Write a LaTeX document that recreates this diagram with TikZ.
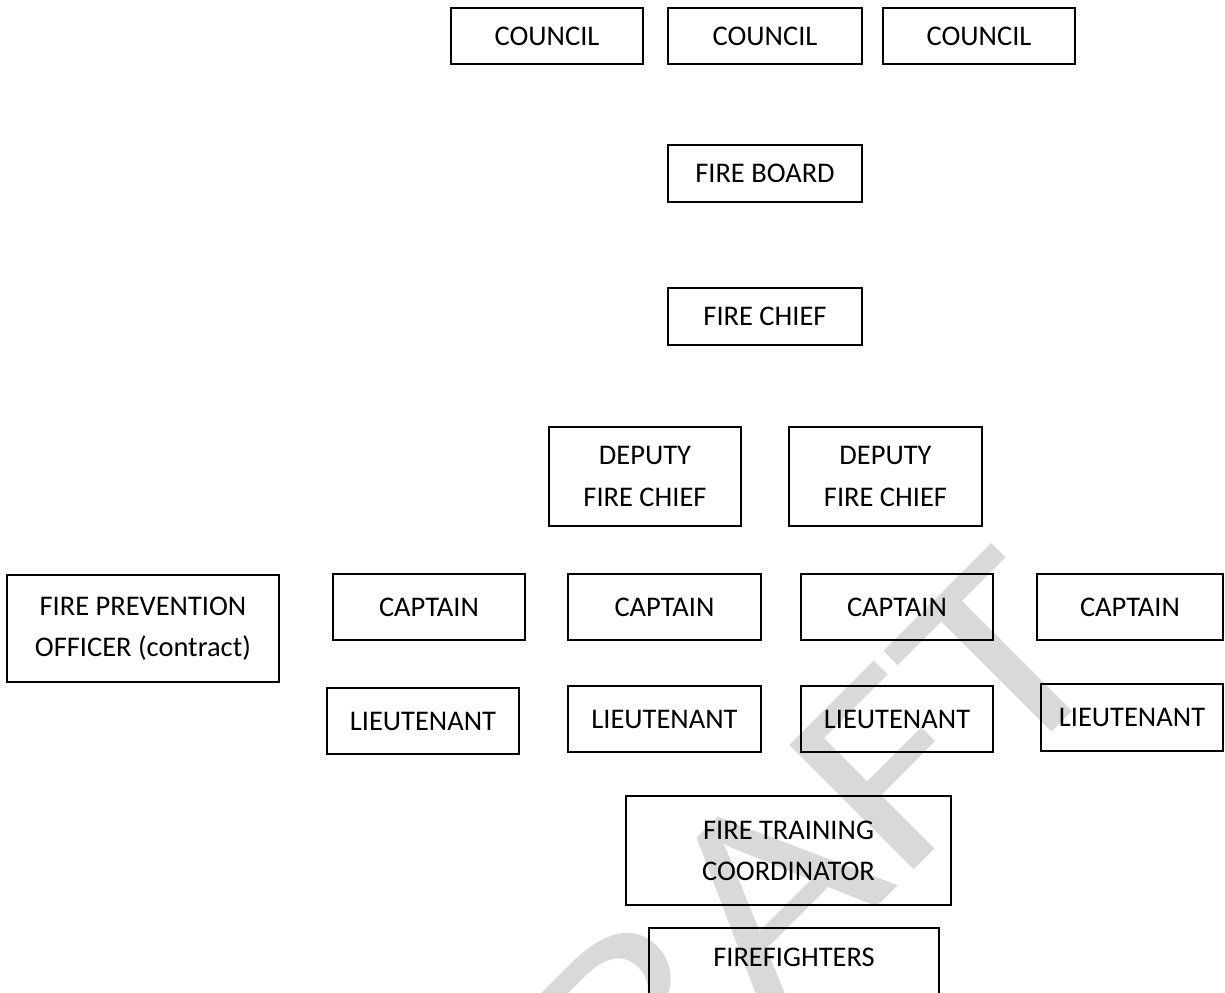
\documentclass[tikz,border=0pt]{standalone}
\usepackage{fontspec}
\setmainfont{Carlito}
\tikzset{post/.style={draw,line width=0.6pt,align=center,inner sep=0pt,font=\fontsize{8.1}{11.7}\selectfont}}
\begin{document}
\begin{tikzpicture}
\useasboundingbox(0,0)rectangle(12.25,-9.92);
\clip(0,0)rectangle(12.25,-9.92);
\node[rotate=45,xscale=1.2,anchor=base,text=black!15,inner sep=0pt,font=\fontsize{78}{78}\selectfont](draft)at(8.07,-9.77){DRAFT};
\node[post,minimum width=1.92cm,minimum height=0.56cm](council1)at(5.47,-0.36){COUNCIL};
\node[post,minimum width=1.94cm,minimum height=0.56cm](council2)at(7.65,-0.36){COUNCIL};
\node[post,minimum width=1.92cm,minimum height=0.56cm](council3)at(9.79,-0.36){COUNCIL};
\node[post,minimum width=1.94cm,minimum height=0.57cm](board)at(7.65,-1.735){FIRE BOARD};
\node[post,minimum width=1.94cm,minimum height=0.57cm](chief)at(7.65,-3.165){FIRE CHIEF};
\node[post,minimum width=1.92cm,minimum height=0.99cm](deputy1)at(6.45,-4.765){DEPUTY\\FIRE CHIEF};
\node[post,minimum width=1.93cm,minimum height=0.99cm](deputy2)at(8.855,-4.765){DEPUTY\\FIRE CHIEF};
\node[post,minimum width=2.72cm,minimum height=1.07cm](prevention)at(1.43,-6.285){FIRE PREVENTION\\OFFICER (contract)};
\node[post,minimum width=1.92cm,minimum height=0.66cm](captain1)at(4.29,-6.07){CAPTAIN};
\node[post,minimum width=1.93cm,minimum height=0.66cm](captain2)at(6.645,-6.07){CAPTAIN};
\node[post,minimum width=1.92cm,minimum height=0.66cm](captain3)at(8.97,-6.07){CAPTAIN};
\node[post,minimum width=1.86cm,minimum height=0.66cm](captain4)at(11.30,-6.07){CAPTAIN};
\node[post,minimum width=1.92cm,minimum height=0.66cm](lieut1)at(4.23,-7.21){LIEUTENANT};
\node[post,minimum width=1.93cm,minimum height=0.66cm](lieut2)at(6.645,-7.19){LIEUTENANT};
\node[post,minimum width=1.92cm,minimum height=0.66cm](lieut3)at(8.97,-7.19){LIEUTENANT};
\node[post,minimum width=1.82cm,minimum height=0.67cm](lieut4)at(11.32,-7.175){LIEUTENANT};
\node[post,minimum width=3.25cm,minimum height=1.09cm](training)at(7.885,-8.505){FIRE TRAINING\\COORDINATOR};
\node[post,minimum width=2.90cm,minimum height=1.09cm,text depth=0.51cm](firefighters)at(7.94,-9.825){FIREFIGHTERS};
\end{tikzpicture}
\end{document}
